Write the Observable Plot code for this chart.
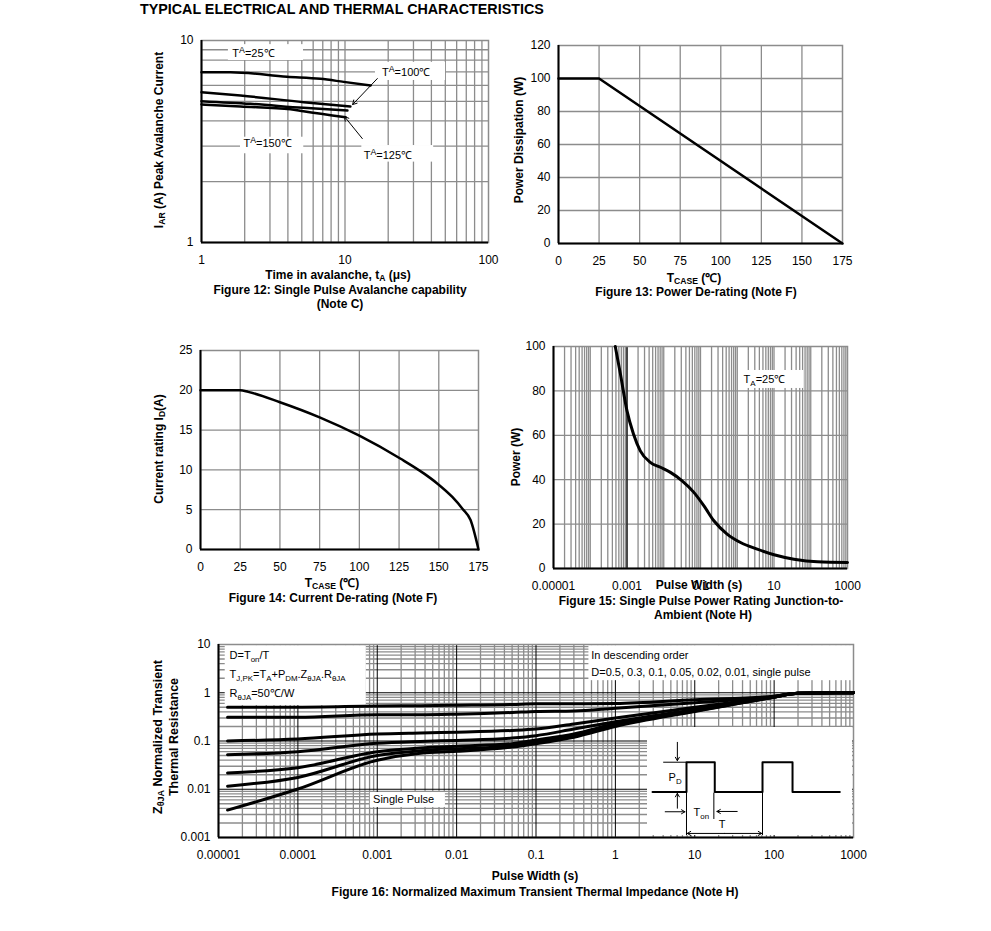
<!DOCTYPE html>
<html><head><meta charset="utf-8">
<script src="https://cdn.jsdelivr.net/npm/d3@7"></script>
<script src="https://cdn.jsdelivr.net/npm/@observablehq/plot@0.6"></script>
<style>
body{margin:0;background:#fff;font-family:"Liberation Sans",Arial,Helvetica,sans-serif;}
#page{position:relative;width:991px;height:931px;overflow:hidden;}
.lbl{position:absolute;font-weight:bold;font-size:12px;white-space:nowrap;line-height:1;transform:translate(-50%,-50%);color:#000;}
.lbl.start{transform:translate(0,-50%);}
.lbl.rot{transform:translate(-50%,-50%) rotate(-90deg);}
.lbl sub{font-size:0.72em;vertical-align:-0.25em;line-height:0;}
</style></head>
<body><div id="page"></div>
<script>
// ---------------- DATA ----------------
// Figure 12: single pulse avalanche capability (t in µs, I in A)
const t25 = [1, 1.59, 3.95, 6.74, 9.8, 15.1];
const i25 = [6.97, 6.97, 6.62, 6.46, 6.24, 5.99];
const t100 = [1, 1.87, 5.16, 10.9];
const i100 = [5.55, 5.34, 4.95, 4.71];
const t150 = [1, 2.19, 5.13, 10.4];
const i150 = [5.01, 4.86, 4.64, 4.5];
const t125 = [1, 1.87, 4.17, 5.13, 10.1];
const i125 = [4.82, 4.71, 4.57, 4.46, 4.17];
const fig12XTicks = [1, 10, 100], fig12XLabels = ["1", "10", "100"];
const fig12YTicks = [1, 10], fig12YLabels = ["1", "10"];

// Figure 13: power de-rating
const tcase13 = [0, 25, 175];
const pd13 = [100, 100, 0];
const fig13XTicks = [0, 25, 50, 75, 100, 125, 150, 175];
const fig13YTicks = [0, 20, 40, 60, 80, 100, 120];

// Figure 14: current de-rating
const tcase14 = [0, 25, 30, 50, 75, 100, 126, 141, 149, 158.5, 165, 170, 175];
const id14 = [20, 20, 19.8, 18.5, 16.6, 14.3, 11.4, 9.5, 8.3, 6.6, 5.1, 3.7, 0];
const fig14XTicks = [0, 25, 50, 75, 100, 125, 150, 175];
const fig14YTicks = [0, 5, 10, 15, 20, 25];

// Figure 15: single pulse power rating
const pw15 = [4.8e-4, 6.6e-4, 1e-3, 1.5e-3, 2.3e-3, 4.3e-3, 8.1e-3, 0.0152, 0.0316, 0.066, 0.123, 0.231, 0.53, 1.23, 3.5, 10, 35, 151, 1000];
const p15 = [100, 87.7, 71, 60.6, 53, 47.8, 45.6, 43.3, 39.5, 34.3, 28.3, 21.5, 15.5, 11.7, 8.7, 6.2, 4.2, 3.0, 2.7];
const fig15XTicks = [1e-5, 1e-3, 0.1, 10, 1000], fig15XLabels = ["0.00001", "0.001", "0.1", "10", "1000"];
const fig15YTicks = [0, 20, 40, 60, 80, 100];

// Figure 16: normalized transient thermal impedance
const pw16 = [1.3e-5, 1e-4, 1e-3, 3.5e-3, 0.01, 0.05, 0.1, 0.3, 1, 10, 100, 200, 1000];
const zD05 = [0.50, 0.50, 0.53, 0.54, 0.55, 0.57, 0.59, 0.59, 0.60, 0.72, 0.85, 0.98, 1.0];
const zD03 = [0.31, 0.31, 0.35, 0.35, 0.36, 0.39, 0.41, 0.42, 0.48, 0.62, 0.84, 0.98, 1.0];
const zD01 = [0.10, 0.11, 0.14, 0.147, 0.152, 0.165, 0.177, 0.225, 0.30, 0.50, 0.83, 0.98, 1.0];
const zD005 = [0.052, 0.06, 0.09, 0.098, 0.103, 0.115, 0.129, 0.177, 0.25, 0.45, 0.82, 0.98, 1.0];
const zD002 = [0.0217, 0.028, 0.06, 0.072, 0.078, 0.088, 0.105, 0.14, 0.23, 0.43, 0.82, 0.98, 1.0];
const zD001 = [0.0116, 0.0176, 0.05, 0.063, 0.069, 0.08, 0.095, 0.13, 0.21, 0.42, 0.81, 0.98, 1.0];
const zSingle = [0.0037, 0.0101, 0.04, 0.056, 0.061, 0.075, 0.088, 0.12, 0.20, 0.41, 0.81, 0.98, 1.0];
const duty16 = ["0.5", "0.3", "0.1", "0.05", "0.02", "0.01", "single pulse"];
const fig16XTicks = [1e-5, 1e-4, 1e-3, 0.01, 0.1, 1, 10, 100, 1000];
const fig16XLabels = ["0.00001", "0.0001", "0.001", "0.01", "0.1", "1", "10", "100", "1000"];
const fig16YTicks = [0.001, 0.01, 0.1, 1, 10];
const fig16YLabels = ["0.001", "0.01", "0.1", "1", "10"];

// Inset: duty-cycle pulse waveform (time in units of period T, level in units of PD)
const pulseT = [-0.447, 0, 0, 0.372, 0.372, 1, 1, 1.395, 1.395, 2.017];
const pulseLevel = [0, 0, 1, 1, 0, 0, 1, 1, 0, 0];

// ---------------- HELPERS ----------------
const FONT = '"Liberation Sans", Arial, Helvetica, sans-serif';
const GRID = "#8c8c8c";
const page = document.getElementById("page");
const SVGNS = "http://www.w3.org/2000/svg";

function html(text, cx, cy, o = {}) {
  const d = document.createElement("div");
  d.className = "lbl" + (o.rot ? " rot" : "") + (o.start ? " start" : "");
  d.innerHTML = text;
  d.style.left = cx + "px"; d.style.top = cy + "px";
  if (o.size) d.style.fontSize = o.size + "px";
  page.appendChild(d);
}
function rich(svg) {
  for (const t of svg.querySelectorAll("text")) {
    const els = t.querySelector("tspan") ? [...t.querySelectorAll("tspan")] : [t];
    for (const el of els) {
      const s = el.textContent;
      if (!/[_^]\{/.test(s)) continue;
      el.textContent = "";
      let cur = 0;
      const seg = (txt, off, size) => {
        const sp = document.createElementNS(SVGNS, "tspan");
        sp.textContent = txt;
        if (off !== cur) { sp.setAttribute("dy", off - cur); cur = off; }
        if (size) sp.setAttribute("font-size", size);
        el.appendChild(sp);
      };
      const re = /([_^])\{([^}]*)\}/g; let last = 0, m;
      while ((m = re.exec(s))) {
        if (m.index > last) seg(s.slice(last, m.index), 0, null);
        if (m[1] === "_") seg(m[2], 3, "0.72em"); else seg(m[2], -4, "0.8em");
        last = re.lastIndex;
      }
      if (last < s.length) seg(s.slice(last), 0, null);
    }
  }
}
function logGrid(lo, hi) {
  const out = [];
  for (let e = Math.round(Math.log10(lo)); e < Math.round(Math.log10(hi)); e++)
    for (let m = 1; m <= 9; m++) { const v = m * Math.pow(10, e); if (v > lo * 1.0001 && v < hi * 0.9999) out.push(v); }
  return out;
}
function chart({box: [x0, y0, x1, y1], pad = [12, 20, 30, 50], x, y, marks, bg = "transparent", fontSize = "12px"}) {
  const [pt, pr, pb, pl] = pad;
  const svg = Plot.plot({
    width: x1 - x0 + pl + pr, height: y1 - y0 + pt + pb,
    marginTop: pt, marginRight: pr, marginBottom: pb, marginLeft: pl,
    style: {fontFamily: FONT, fontSize, background: bg, color: "black", overflow: "visible"},
    x, y, marks
  });
  rich(svg);
  svg.style.position = "absolute";
  svg.style.left = (x0 - pl) + "px";
  svg.style.top = (y0 - pt) + "px";
  svg.style.maxWidth = "none";
  page.appendChild(svg);
  return svg;
}
const fmt = (ticks, labels) => d => labels[ticks.indexOf(d)];
const xAxis = (o) => ({tickSize: 0, tickPadding: 13, label: null, ...o});
const yAxis = (o) => ({tickSize: 0, tickPadding: 8, label: null, ...o});

// ---------------- TITLE ----------------
html("TYPICAL ELECTRICAL AND THERMAL CHARACTERISTICS", 140, 9, {start: true, size: 14.3});

// ---------------- FIGURE 12 ----------------
const rows12 = [
  ...t25.map((t, i) => ({temp: "25℃", t, i: i25[i]})),
  ...t100.map((t, i) => ({temp: "100℃", t, i: i100[i]})),
  ...t150.map((t, i) => ({temp: "150℃", t, i: i150[i]})),
  ...t125.map((t, i) => ({temp: "125℃", t, i: i125[i]}))
];
const boxes12 = [
  {x1: 1.54, x2: 5.14, y1: 7.96, y2: 9.54},
  {x1: 16.3, x2: 50.2, y1: 6.34, y2: 7.8},
  {x1: 1.87, x2: 5.16, y1: 2.75, y2: 3.32},
  {x1: 13.1, x2: 41.5, y1: 2.5, y2: 3.02}
];
const notes12 = [
  {x: 1.64, y: 8.66, text: "T^{A}=25℃"},
  {x: 18.1, y: 6.97, text: "T^{A}=100℃"},
  {x: 1.96, y: 3.10, text: "T^{A}=150℃"},
  {x: 13.5, y: 2.70, text: "T^{A}=125℃"}
];
const arrows12 = [
  {x1: 16.8, y1: 6.48, x2: 11.3, y2: 4.82},
  {x1: 13.2, y1: 3.27, x2: 9.92, y2: 4.2}
];
chart({
  box: [201, 40, 488, 242], pad: [12, 20, 30, 50],
  x: xAxis({type: "log", domain: [1, 100], ticks: fig12XTicks, tickFormat: fmt(fig12XTicks, fig12XLabels)}),
  y: yAxis({type: "log", domain: [1, 10], ticks: fig12YTicks, tickFormat: fmt(fig12YTicks, fig12YLabels)}),
  marks: [
    Plot.ruleX(logGrid(1, 100), {stroke: GRID, strokeWidth: 1.3}),
    Plot.ruleY(logGrid(1, 10), {stroke: GRID, strokeWidth: 1.3}),
    Plot.rect(boxes12, {x1: "x1", x2: "x2", y1: "y1", y2: "y2", fill: "white"}),
    Plot.frame({stroke: GRID, strokeWidth: 1.5}),
    Plot.ruleX([1], {stroke: "black", strokeWidth: 2}),
    Plot.ruleY([1], {stroke: "black", strokeWidth: 2}),
    Plot.line(rows12, {x: "t", y: "i", z: "temp", stroke: "black", strokeWidth: 2.5, curve: "monotone-x"}),
    Plot.arrow(arrows12, {x1: "x1", y1: "y1", x2: "x2", y2: "y2", stroke: "black", strokeWidth: 1, headLength: 7}),
    Plot.text(notes12, {x: "x", y: "y", text: "text", textAnchor: "start", fontSize: 11})
  ]
});
html("Time in avalanche, t<sub>A</sub> (μs)", 338, 275);
html("Figure 12: Single Pulse Avalanche capability", 340, 290);
html("(Note C)", 340, 304);
html("I<sub>AR</sub> (A) Peak Avalanche Current", 159, 140, {rot: true});

// ---------------- FIGURE 13 ----------------
chart({
  box: [558, 45, 842, 243], pad: [12, 20, 30, 50],
  x: xAxis({domain: [0, 175], ticks: fig13XTicks}),
  y: yAxis({domain: [0, 120], ticks: fig13YTicks}),
  marks: [
    Plot.ruleX(fig13XTicks.slice(1, -1), {stroke: GRID, strokeWidth: 1.3}),
    Plot.ruleY(fig13YTicks.slice(1, -1), {stroke: GRID, strokeWidth: 1.3}),
    Plot.frame({stroke: GRID, strokeWidth: 1.5}),
    Plot.ruleX([0], {stroke: "black", strokeWidth: 2}),
    Plot.ruleY([0], {stroke: "black", strokeWidth: 2}),
    Plot.line(tcase13.map((t, i) => ({t, p: pd13[i]})), {x: "t", y: "p", stroke: "black", strokeWidth: 2.5})
  ]
});
html("T<sub>CASE</sub> (℃)", 694, 278);
html("Figure 13: Power De-rating (Note F)", 696, 292);
html("Power Dissipation (W)", 519, 140, {rot: true});

// ---------------- FIGURE 14 ----------------
chart({
  box: [200, 350, 478, 549], pad: [12, 20, 30, 50],
  x: xAxis({domain: [0, 175], ticks: fig14XTicks}),
  y: yAxis({domain: [0, 25], ticks: fig14YTicks}),
  marks: [
    Plot.ruleX(fig14XTicks.slice(1, -1), {stroke: GRID, strokeWidth: 1.3}),
    Plot.ruleY(fig14YTicks.slice(1, -1), {stroke: GRID, strokeWidth: 1.3}),
    Plot.frame({stroke: GRID, strokeWidth: 1.5}),
    Plot.ruleX([0], {stroke: "black", strokeWidth: 2}),
    Plot.ruleY([0], {stroke: "black", strokeWidth: 2}),
    Plot.line(tcase14.map((t, i) => ({t, a: id14[i]})), {x: "t", y: "a", stroke: "black", strokeWidth: 2.5, curve: "monotone-x"})
  ]
});
html("T<sub>CASE</sub> (℃)", 332, 583);
html("Figure 14: Current De-rating (Note F)", 333, 598);
html("Current rating I<sub>D</sub>(A)", 159, 449, {rot: true});

// ---------------- FIGURE 15 ----------------
const boxes15 = [{x1: 1.09, x2: 64.5, y1: 81.1, y2: 89.2}];
const notes15 = [{x: 1.49, y: 85.1, text: "T_{A}=25℃"}];
chart({
  box: [553, 346, 847, 568], pad: [12, 25, 30, 50],
  x: xAxis({type: "log", domain: [1e-5, 1000], ticks: fig15XTicks, tickFormat: fmt(fig15XTicks, fig15XLabels)}),
  y: yAxis({domain: [0, 100], ticks: fig15YTicks}),
  marks: [
    Plot.ruleX(logGrid(1e-5, 1000), {stroke: GRID, strokeWidth: 1.3}),
    Plot.ruleY(fig15YTicks.slice(1, -1), {stroke: GRID, strokeWidth: 1.3}),
    Plot.ruleX([1e-3], {stroke: "black", strokeWidth: 1.2}),
    Plot.rect(boxes15, {x1: "x1", x2: "x2", y1: "y1", y2: "y2", fill: "white"}),
    Plot.frame({stroke: GRID, strokeWidth: 1.5}),
    Plot.ruleX([1e-5], {stroke: "black", strokeWidth: 2}),
    Plot.ruleY([0], {stroke: "black", strokeWidth: 2}),
    Plot.line(pw15.map((w, i) => ({w, p: p15[i]})), {x: "w", y: "p", stroke: "black", strokeWidth: 3, curve: "monotone-x"}),
    Plot.text(notes15, {x: "x", y: "y", text: "text", textAnchor: "start", fontSize: 11})
  ]
});
html("Pulse Width (s)", 699, 585);
html("Figure 15: Single Pulse Power Rating Junction-to-", 701, 601);
html("Ambient (Note H)", 703, 615);
html("Power (W)", 516, 457, {rot: true});

// ---------------- FIGURE 16 ----------------
const zSeries16 = [zD05, zD03, zD01, zD005, zD002, zD001, zSingle];
const rows16 = zSeries16.flatMap((zs, k) => pw16.map((w, i) => ({d: duty16[k], w, z: zs[i]})));
const boxes16 = [
  {x1: 1.215e-5, x2: 7.28e-4, y1: 0.541, y2: 9.49},
  {x1: 0.464, x2: 1000, y1: 1.78, y2: 9.49},
  {x1: 8.18e-4, x2: 7.23e-3, y1: 4.19e-3, y2: 8.58e-3}
];
const notes16 = [
  {x: 1.38e-5, y: 5.89, text: "D=T_{on}/T"},
  {x: 1.38e-5, y: 2.45, text: "T_{J,PK}=T_{A}+P_{DM}.Z_{θJA}.R_{θJA}"},
  {x: 1.38e-5, y: 0.97, text: "R_{θJA}=50℃/W"},
  {x: 0.497, y: 5.89, text: "In descending order"},
  {x: 0.497, y: 2.65, text: "D=0.5, 0.3, 0.1, 0.05, 0.02, 0.01, single pulse"},
  {x: 8.85e-4, y: 6.27e-3, text: "Single Pulse"}
];
const decadesX16 = fig16XTicks.slice(1, -1), decadesY16 = fig16YTicks.slice(1, -1);
chart({
  box: [218, 644, 853, 837], pad: [12, 25, 30, 60],
  x: xAxis({type: "log", domain: [1e-5, 1000], ticks: fig16XTicks, tickFormat: fmt(fig16XTicks, fig16XLabels)}),
  y: yAxis({type: "log", domain: [0.001, 10], ticks: fig16YTicks, tickFormat: fmt(fig16YTicks, fig16YLabels)}),
  marks: [
    Plot.ruleX(logGrid(1e-5, 1000).filter(v => !decadesX16.includes(v)), {stroke: GRID, strokeWidth: 1.3}),
    Plot.ruleY(logGrid(0.001, 10).filter(v => !decadesY16.includes(v)), {stroke: GRID, strokeWidth: 1.3}),
    Plot.ruleX(decadesX16, {stroke: "black", strokeWidth: 1}),
    Plot.ruleY(decadesY16, {stroke: "black", strokeWidth: 1}),
    Plot.rect(boxes16, {x1: "x1", x2: "x2", y1: "y1", y2: "y2", fill: "white"}),
    Plot.frame({stroke: GRID, strokeWidth: 1.5}),
    Plot.ruleX([1e-5], {stroke: "black", strokeWidth: 2}),
    Plot.ruleY([0.001], {stroke: "black", strokeWidth: 2}),
    Plot.line(rows16, {x: "w", y: "z", z: "d", stroke: "black", strokeWidth: 3, curve: "monotone-x"}),
    Plot.text(notes16, {x: "x", y: "y", text: "text", textAnchor: "start", fontSize: 11})
  ]
});
html("Pulse Width (s)", 535, 876);
html("Figure 16: Normalized Maximum Transient Thermal Impedance (Note H)", 535, 892);
html("Z<sub>θJA</sub> Normalized Transient", 158, 737, {rot: true, size: 12.5});
html("Thermal Resistance", 174, 737, {rot: true, size: 12.5});

// Inset waveform diagram
const insetArrows = [
  {x1: -0.12, y1: 1.67, x2: -0.12, y2: 1.05},
  {x1: -0.12, y1: -0.55, x2: -0.12, y2: -0.05},
  {x1: -0.28, y1: -0.67, x2: -0.02, y2: -0.67},
  {x1: 0.667, y1: -0.66, x2: 0.40, y2: -0.66},
  {x1: 0.5, y1: -1.40, x2: 0.01, y2: -1.40},
  {x1: 0.5, y1: -1.40, x2: 0.99, y2: -1.40}
];
const insetNotes = [
  {x: -0.15, y: 0.47, text: "P_{D}"},
  {x: 0.195, y: -0.71, text: "T_{on}"},
  {x: 0.47, y: -1.1, text: "T"}
];
chart({
  box: [647, 727, 852, 835], pad: [0, 0, 0, 0], bg: "white",
  x: {domain: [-0.513, 2.184], axis: null},
  y: {domain: [-1.47, 2.17], axis: null},
  marks: [
    Plot.ruleY([1], {x1: -0.30, x2: 0, stroke: "black", strokeWidth: 1}),
    Plot.ruleX([0, 1], {y1: 0, y2: -1.47, stroke: "black", strokeWidth: 1}),
    Plot.ruleX([0.36], {y1: -0.04, y2: -0.93, stroke: "black", strokeWidth: 1}),
    Plot.line(pulseT.map((t, i) => ({t, l: pulseLevel[i]})), {x: "t", y: "l", stroke: "black", strokeWidth: 2}),
    Plot.arrow(insetArrows, {x1: "x1", y1: "y1", x2: "x2", y2: "y2", stroke: "black", strokeWidth: 1, headLength: 6}),
    Plot.text(insetNotes, {x: "x", y: "y", text: "text", fontSize: 11})
  ]
});
</script></body></html>
